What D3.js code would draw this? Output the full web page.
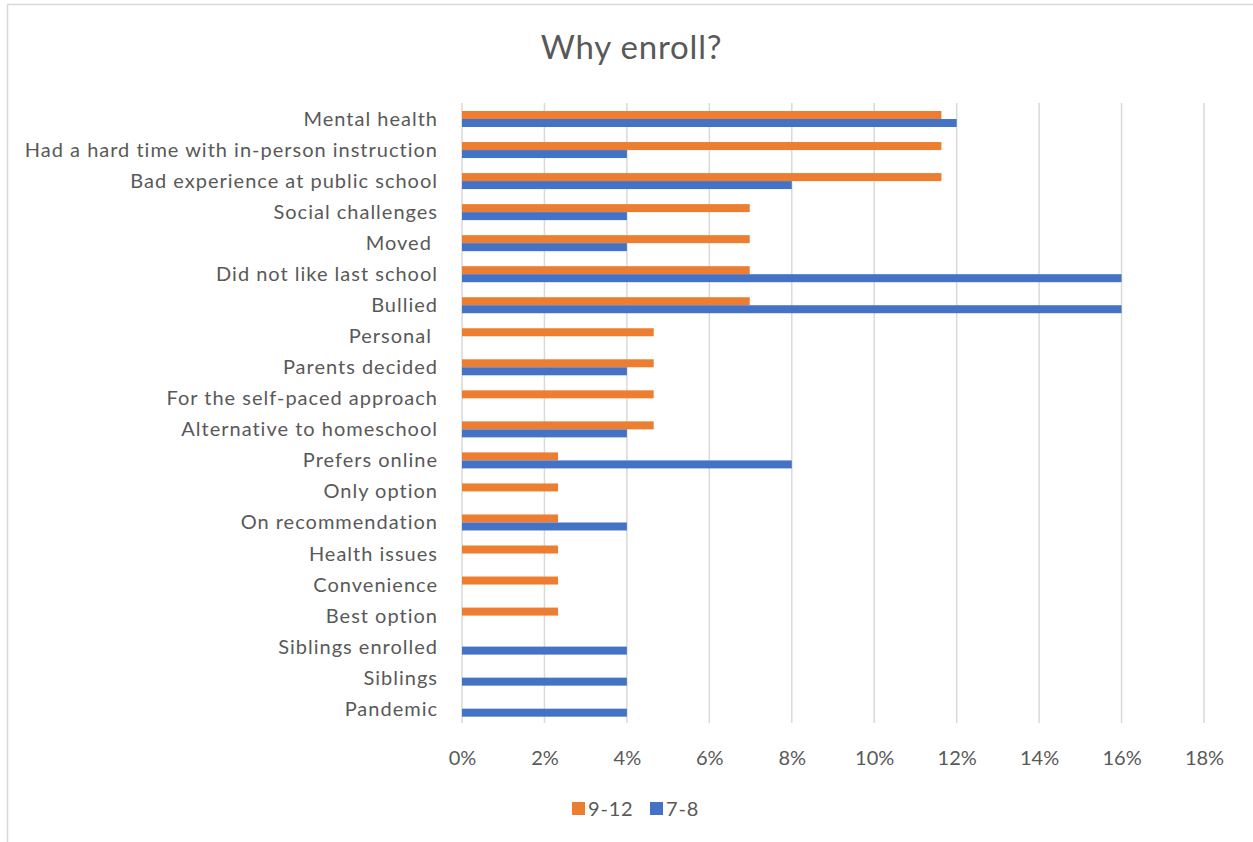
<!DOCTYPE html>
<html>
<head>
<meta charset="utf-8">
<script src="https://cdn.jsdelivr.net/npm/d3@7"></script>
<style>
  html, body { margin: 0; padding: 0; background: #fff; }
  svg { display: block; }
  text { font-family: Lato, "Open Sans", sans-serif; fill: #595959; }
</style>
</head>
<body>
<svg id="chart" width="1253" height="842"></svg>
<script>
// Reasons for enrolling, top to bottom
const categories = [
  "Mental health",
  "Had a hard time with in-person instruction",
  "Bad experience at public school",
  "Social challenges",
  "Moved ",
  "Did not like last school",
  "Bullied",
  "Personal ",
  "Parents decided",
  "For the self-paced approach",
  "Alternative to homeschool",
  "Prefers online",
  "Only option",
  "On recommendation",
  "Health issues",
  "Convenience",
  "Best option",
  "Siblings enrolled",
  "Siblings",
  "Pandemic"
];

// Share of respondents (%) per grade band
const grades9to12 = [11.63, 11.63, 11.63, 6.98, 6.98, 6.98, 6.98, 4.65, 4.65, 4.65, 4.65,
                     2.33, 2.33, 2.33, 2.33, 2.33, 2.33, 0, 0, 0];
const grades7to8  = [12, 4, 8, 4, 4, 16, 16, 0, 4, 0, 4,
                     8, 0, 4, 0, 0, 0, 4, 4, 4];

const seriesNames = ["9-12", "7-8"];
const seriesColors = ["#ED7D31", "#4472C4"];
const xTicks = [0, 2, 4, 6, 8, 10, 12, 14, 16, 18];

const series = [grades9to12, grades7to8];

const svg = d3.select("#chart");

// chart area frame (continues past the right and bottom edges)
svg.append("rect")
  .attr("x", 7.5).attr("y", 4.5)
  .attr("width", 1300).attr("height", 900)
  .attr("fill", "#fff").attr("stroke", "#D9D9D9").attr("stroke-width", 1.5);

const x = d3.scaleLinear().domain([0, 18]).range([462, 1204]);
const y = d3.scaleBand().domain(categories).range([103.5, 724.2]);
const barH = 8;

// title
svg.append("text")
  .attr("x", 631.5).attr("y", 59)
  .attr("text-anchor", "middle")
  .attr("font-size", 33)
  .attr("letter-spacing", 0.8)
  .text("Why enroll?");

// vertical gridlines
svg.append("g").selectAll("line")
  .data(xTicks)
  .join("line")
  .attr("x1", d => x(d)).attr("x2", d => x(d))
  .attr("y1", 103).attr("y2", 723)
  .attr("stroke", "#D9D9D9").attr("stroke-width", 1.5);

// bars
series.forEach((vals, si) => {
  svg.append("g").selectAll("rect")
    .data(categories.map((c, i) => ({ c, v: vals[i] })).filter(d => d.v > 0))
    .join("rect")
    .attr("x", x(0))
    .attr("y", d => y(d.c) + y.bandwidth() / 2 - barH + si * barH)
    .attr("width", d => x(d.v) - x(0))
    .attr("height", barH)
    .attr("fill", seriesColors[si]);
});

// category axis
const yAxis = d3.axisLeft(y).tickSize(0).tickPadding(0);
const gy = svg.append("g").attr("transform", "translate(438,0)").call(yAxis);
gy.select(".domain").remove();
gy.selectAll("text")
  .attr("font-size", 20)
  .attr("letter-spacing", 1)
  .attr("dy", "0.35em")
  .style("white-space", "pre")
  .attr("fill", "#595959")
  .style("font-family", "Lato, 'Open Sans', sans-serif");

// value axis
const xAxis = d3.axisBottom(x).tickValues(xTicks).tickSize(0).tickPadding(0)
  .tickFormat(d => d + "%");
const gx = svg.append("g").attr("transform", "translate(0,751)").call(xAxis);
gx.select(".domain").remove();
gx.selectAll("text")
  .attr("font-size", 20)
  .attr("fill", "#595959")
  .style("font-family", "Lato, 'Open Sans', sans-serif");

// legend
const legendX = [572, 650];
const legend = svg.append("g");
seriesNames.forEach((name, i) => {
  legend.append("rect")
    .attr("x", legendX[i]).attr("y", 802)
    .attr("width", 13).attr("height", 13)
    .attr("fill", seriesColors[i]);
  legend.append("text")
    .attr("x", legendX[i] + 16).attr("y", 815.5)
    .attr("font-size", 20)
    .attr("letter-spacing", 0.8)
    .text(name);
});
</script>
</body>
</html>
